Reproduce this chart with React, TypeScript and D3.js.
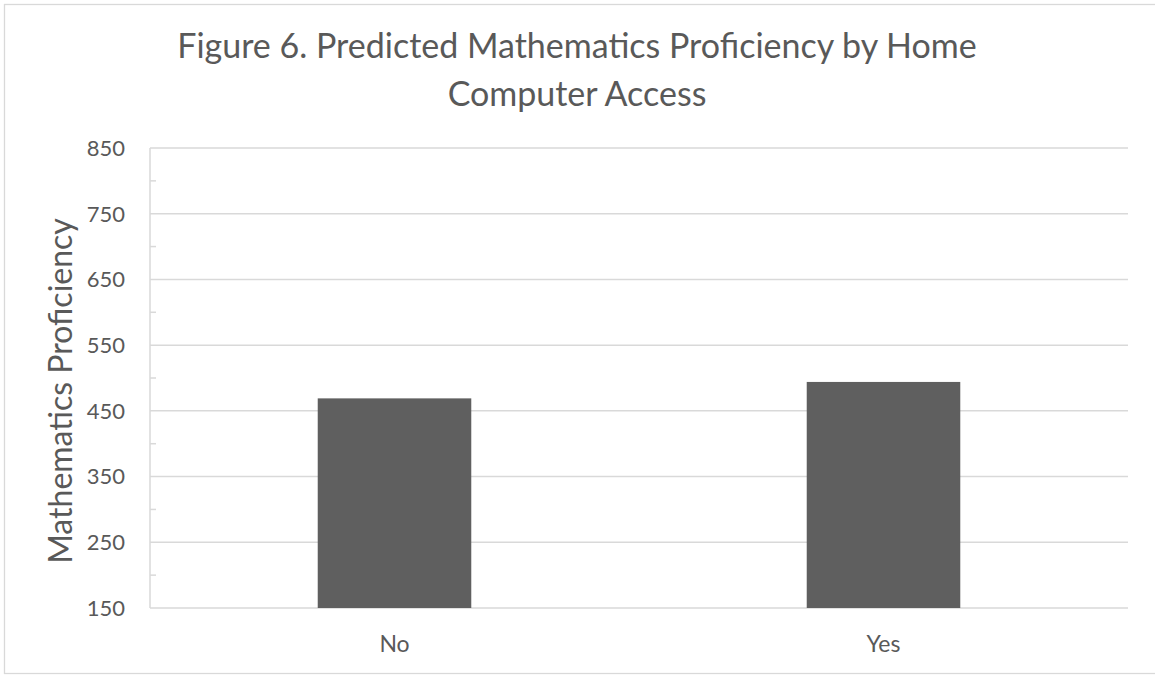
import React, { useEffect, useRef } from "react";
import * as d3 from "d3";

// chart data
const categories = ["No", "Yes"];
const proficiency = [469, 494];
const yTicks = [150, 250, 350, 450, 550, 650, 750, 850];
const yMinorTicks = [200, 300, 400, 500, 600, 700, 800];
const titleLines = [
  "Figure 6. Predicted Mathematics Proficiency by Home",
  "Computer Access",
];
const yAxisTitle = "Mathematics Proficiency";

const App = () => {
  const d3Container = useRef(null);

  useEffect(() => {
    document.body.style.margin = "0";
    drawChart();
    return () => {
      d3.select(d3Container.current).select("svg").remove();
    };
  }, []);

  const drawChart = () => {
    const width = 1155;
    const height = 675;
    const font = "Lato, 'Open Sans', sans-serif";
    const textColor = "#595959";
    const gridColor = "#d9d9d9";

    const svg = d3
      .select(d3Container.current)
      .append("svg")
      .attr("width", width)
      .attr("height", height)
      .style("display", "block")
      .style("background", "#fff");

    // outer chart border
    svg
      .append("rect")
      .attr("x", 4.5)
      .attr("y", 4.5)
      .attr("width", 1160)
      .attr("height", 669)
      .style("fill", "none")
      .style("stroke", gridColor)
      .style("stroke-width", 1.3);

    const left = 150;
    const right = 1128;
    const top = 148;
    const bottom = 608;

    const x = d3
      .scaleBand()
      .domain(categories)
      .range([left, right])
      .paddingInner(0.686)
      .paddingOuter(0.343);

    const y = d3.scaleLinear().domain([150, 850]).range([bottom, top]);

    // horizontal gridlines
    svg
      .append("g")
      .selectAll("line")
      .data(yTicks)
      .join("line")
      .attr("x1", left)
      .attr("x2", right)
      .attr("y1", (d) => y(d))
      .attr("y2", (d) => y(d))
      .style("stroke", gridColor)
      .style("stroke-width", 1.5);

    // left axis line and minor ticks (inside)
    svg
      .append("line")
      .attr("x1", left)
      .attr("x2", left)
      .attr("y1", top)
      .attr("y2", bottom)
      .style("stroke", gridColor)
      .style("stroke-width", 1.5);

    svg
      .append("g")
      .selectAll("line")
      .data(yMinorTicks)
      .join("line")
      .attr("x1", left)
      .attr("x2", left + 6)
      .attr("y1", (d) => y(d))
      .attr("y2", (d) => y(d))
      .style("stroke", gridColor)
      .style("stroke-width", 1.5);

    // tick labels
    svg
      .append("g")
      .selectAll("text")
      .data(yTicks)
      .join("text")
      .attr("x", 125)
      .attr("y", (d) => y(d))
      .attr("dy", "0.36em")
      .attr("text-anchor", "end")
      .style("font-family", font)
      .style("font-size", "22px")
      .style("fill", textColor)
      .text((d) => d);

    // bars
    svg
      .append("g")
      .selectAll("rect")
      .data(categories)
      .join("rect")
      .attr("x", (d) => x(d) as number)
      .attr("y", (d, i) => y(proficiency[i]))
      .attr("width", x.bandwidth())
      .attr("height", (d, i) => bottom - y(proficiency[i]))
      .style("fill", "#5f5f5f");

    // category labels
    svg
      .append("g")
      .selectAll("text")
      .data(categories)
      .join("text")
      .attr("x", (d) => (x(d) as number) + x.bandwidth() / 2)
      .attr("y", 652)
      .attr("text-anchor", "middle")
      .style("font-family", font)
      .style("font-size", "23px")
      .style("fill", textColor)
      .text((d) => d);

    // title
    svg
      .append("g")
      .selectAll("text")
      .data(titleLines)
      .join("text")
      .attr("x", 577)
      .attr("y", (d, i) => 58 + i * 48)
      .attr("text-anchor", "middle")
      .style("font-family", font)
      .style("font-size", "34px")
      .style("fill", textColor)
      .text((d) => d);

    // y axis title
    svg
      .append("text")
      .attr("transform", "translate(72, 391) rotate(-90)")
      .attr("text-anchor", "middle")
      .style("font-family", font)
      .style("font-size", "32px")
      .style("fill", textColor)
      .text(yAxisTitle);
  };

  return <div ref={d3Container}></div>;
};

export default App;
